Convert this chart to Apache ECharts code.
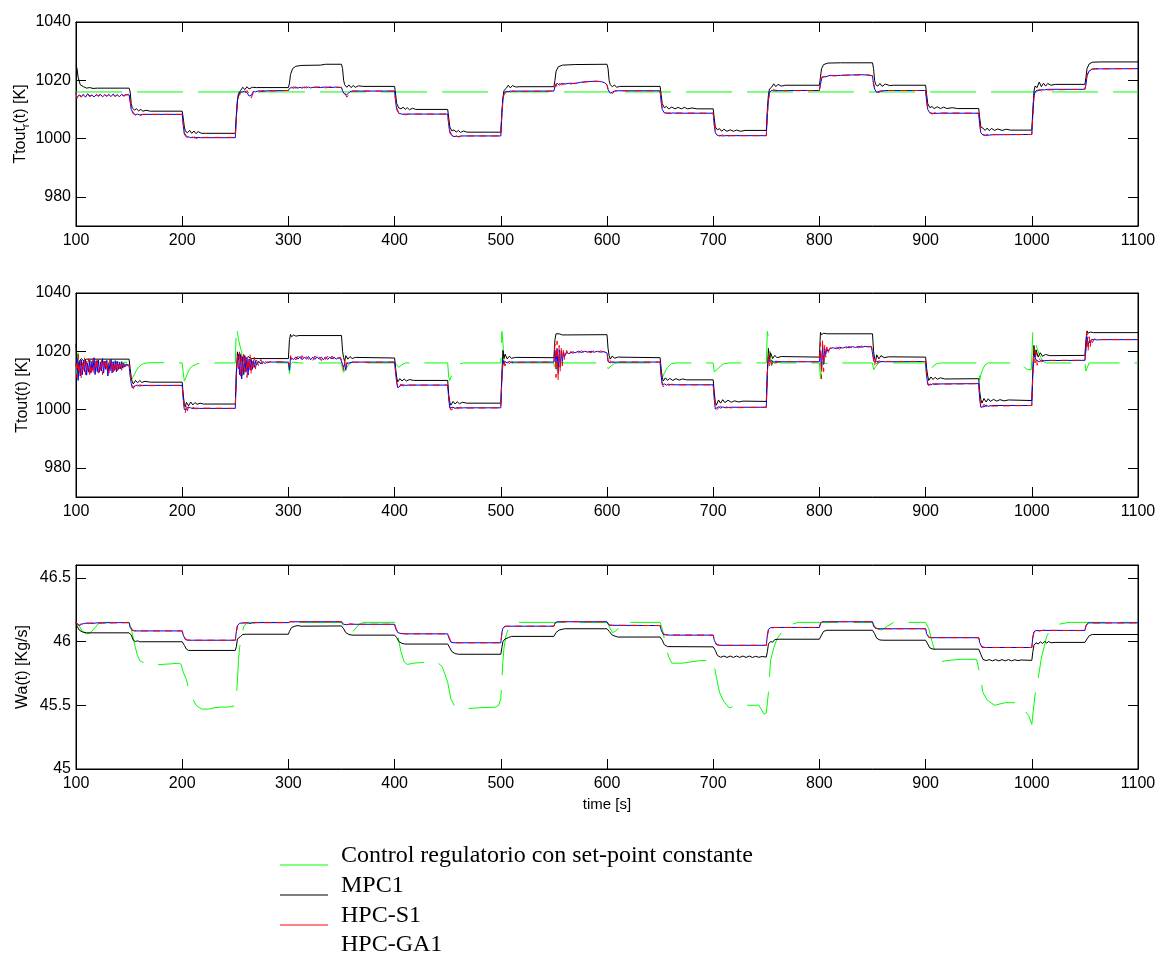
<!DOCTYPE html>
<html>
<head>
<meta charset="utf-8">
<script src="https://cdn.jsdelivr.net/npm/echarts@6/dist/echarts.min.js"></script>
<style>
html,body{margin:0;padding:0;background:#fff;}
#chart{width:1166px;height:953px;}
</style>
</head>
<body>
<div id="chart"></div>
<script>
// ---------------- DATA ----------------
const seriesNames = ['Control regulatorio con set-point constante', 'MPC1', 'HPC-S1', 'HPC-GA1'];
const xRange = [100, 1100, 100];
const yRange1 = [970, 1040];
const yRange2 = [970, 1040];
const yRange3 = [45, 46.6];
const yTicks1 = [980, 1000, 1020, 1040];
const yTicks2 = [980, 1000, 1020, 1040];
const yTicks3 = [45, 45.5, 46, 46.5];
const yNames = ['Ttout_r(t) [K]', 'Ttout(t) [K]', 'Wa(t) [Kg/s]'];
const xName = 'time [s]';

// Panel 1: Ttout_r(t)
const p1Green = [[100,1016],[1100,1016]];
const p1MPC = [[100,1025],[101,1024],[102,1021],[104,1018.5],[107,1017.8],[110,1017.3],[113,1017.5],[116,1017.2],[120,1017.3],[150,1017.3],[151,1016],[152,1012],[153,1010.5],[155,1009.8],[157,1010.2],[159,1009.5],[161,1010],[163,1009.4],[166,1009.7],[170,1009.4],[200,1009.4],[201,1007],[202,1004],[203,1002.5],[205,1002],[207,1002.8],[209,1001.8],[211,1002.6],[213,1001.7],[215,1002.4],[218,1001.8],[222,1001.8],[250,1001.8],[251,1008],[252,1013],[253,1015.5],[255,1016.5],[257,1017.6],[259,1016.8],[261,1017.8],[263,1017],[266,1017.6],[270,1017.5],[300,1017.5],[301,1019],[302,1022],[304,1024],[307,1024.8],[312,1025.1],[330,1025.2],[335,1025.5],[350,1025.5],[351,1024],[352,1020],[353,1018.5],[355,1017.6],[357,1018.4],[359,1017.5],[361,1018.2],[363,1017.6],[366,1018.1],[370,1017.9],[400,1017.9],[401,1015],[402,1012],[404,1010.5],[406,1010.2],[408,1010.8],[410,1010],[412,1010.6],[414,1009.9],[417,1010.4],[420,1010],[450,1010],[451,1007],[452,1004],[454,1002.6],[456,1003],[458,1002.2],[460,1002.8],[462,1002.1],[465,1002.6],[468,1002.2],[500,1002.2],[501,1009],[502,1014],[503,1016.5],[505,1017.2],[507,1018.3],[509,1017.4],[511,1018.2],[514,1017.7],[518,1017.8],[550,1017.8],[551,1020],[552,1023],[554,1024.6],[558,1025.2],[570,1025.4],[600,1025.5],[601,1024],[602,1020],[603,1018.5],[605,1017.8],[607,1018.4],[609,1017.6],[612,1017.9],[650,1017.9],[651,1015],[652,1012],[654,1010.6],[656,1011],[658,1010.2],[661,1010.8],[664,1010.2],[667,1010.7],[670,1010.2],[673,1010.7],[676,1010.2],[680,1010.5],[685,1010.2],[700,1010.2],[701,1007],[702,1004],[704,1003],[706,1003.4],[708,1002.5],[710,1003.2],[713,1002.5],[716,1003],[719,1002.5],[722,1002.9],[726,1002.5],[730,1002.8],[750,1002.8],[751,1010],[752,1015],[753,1017],[755,1017.6],[757,1018.8],[759,1017.8],[761,1018.6],[764,1018],[768,1018.3],[800,1018.3],[801,1021],[802,1024],[804,1025.4],[808,1025.9],[820,1026],[850,1026],[851,1024],[852,1020],[853,1018.5],[855,1018],[857,1018.9],[859,1017.9],[862,1018.7],[866,1018.2],[870,1018.3],[900,1018.3],[901,1015],[902,1012],[904,1010.6],[906,1011],[908,1010.3],[911,1010.9],[914,1010.3],[917,1010.8],[920,1010.3],[925,1010.6],[930,1010.3],[950,1010.3],[951,1007],[952,1004],[954,1003.6],[956,1002.8],[958,1003.6],[960,1002.7],[962,1003.5],[965,1002.8],[968,1003.3],[972,1002.8],[976,1003.2],[980,1002.9],[1000,1002.9],[1001,1010],[1002,1016],[1003,1018],[1005,1017.5],[1007,1019.4],[1009,1017.8],[1011,1019],[1013,1018],[1015,1018.9],[1018,1018.3],[1022,1018.6],[1050,1018.6],[1051,1021],[1052,1024],[1054,1025.6],[1057,1026.2],[1065,1026.3],[1100,1026.3]];
const p1HPCS = [[100,1016],[101,1013.5],[103,1014.8],[105,1014.2],[107,1015.3],[109,1014.5],[111,1015.2],[113,1014.3],[115,1015.1],[117,1014.6],[119,1015.3],[121,1014.4],[123,1015],[125,1014.5],[127,1015.2],[129,1014.4],[131,1015.3],[133,1014.7],[135,1015.1],[137,1014.3],[139,1015.2],[141,1014.6],[143,1015],[145,1014.5],[147,1015],[150,1015],[151,1013],[152,1010.5],[154,1008.8],[156,1008],[158,1008.6],[160,1007.8],[163,1008.3],[200,1008.3],[201,1005],[202,1002],[204,1000.8],[206,1000.3],[208,1000.9],[210,1000.2],[212,1000.6],[214,999.9],[217,1000.4],[250,1000.4],[251,1007],[252,1012.5],[253,1014.5],[255,1015.5],[257,1016.4],[259,1015.6],[261,1016.5],[263,1015.3],[265,1013.9],[267,1015.8],[269,1016.4],[272,1016],[275,1016.5],[280,1016.3],[300,1016.5],[301,1017.4],[303,1017.2],[305,1017.8],[307,1017.3],[309,1017.6],[311,1017.2],[313,1017.7],[315,1017.4],[317,1017.8],[319,1017.3],[321,1017.6],[325,1017.5],[330,1017.8],[335,1017.4],[340,1017.8],[345,1017.5],[350,1017.6],[351,1016.5],[353,1015.8],[355,1014.2],[356,1014],[358,1015.6],[360,1016.3],[400,1016.3],[401,1013],[402,1010.5],[404,1008.8],[406,1008.2],[408,1008.8],[410,1008.1],[413,1008.4],[450,1008.4],[451,1005],[452,1002.5],[454,1001.2],[456,1000.4],[458,1001],[460,1000.5],[463,1000.9],[500,1000.9],[501,1008],[502,1013],[503,1015.2],[505,1015.8],[507,1016.6],[509,1015.9],[511,1016.4],[514,1016.1],[550,1016.3],[551,1017.5],[552,1018.8],[553,1017.6],[555,1019],[557,1018.4],[560,1018.9],[565,1018.7],[570,1019],[575,1019.2],[580,1019.4],[585,1019.7],[590,1019.6],[595,1019.6],[598,1019],[600,1018.5],[601,1017],[603,1016],[605,1015.4],[607,1016.2],[610,1016.4],[650,1016.4],[651,1013],[652,1010.5],[654,1009],[656,1008.6],[659,1008.9],[662,1008.5],[665,1008.8],[700,1008.7],[701,1005],[702,1002.5],[704,1001.3],[706,1000.8],[709,1001.3],[712,1000.7],[716,1001],[750,1001],[751,1008],[752,1013],[753,1015.5],[755,1016.2],[757,1016.9],[759,1016.2],[762,1016.7],[766,1016.4],[800,1016.5],[801,1019],[802,1021],[803,1020.7],[806,1021.4],[810,1021.6],[815,1021.5],[820,1021.8],[825,1021.6],[830,1022],[835,1021.7],[840,1022],[845,1021.9],[850,1021.6],[851,1019],[852,1017.5],[854,1016],[856,1015.7],[858,1016.5],[860,1016.2],[865,1016.5],[900,1016.5],[901,1013],[902,1010.5],[904,1009],[906,1008.4],[909,1008.9],[912,1008.5],[916,1008.8],[950,1008.7],[951,1005],[952,1002.5],[954,1001.5],[956,1000.9],[958,1001.5],[960,1000.6],[963,1001.4],[1000,1001.4],[1001,1008],[1002,1014],[1003,1015.6],[1005,1016.2],[1007,1016.9],[1009,1016.3],[1012,1016.9],[1015,1016.7],[1050,1016.9],[1051,1019],[1052,1022],[1054,1023.5],[1057,1023.9],[1060,1023.8],[1065,1024],[1100,1024]];
const p1HPCGA = [[100,1015.6],[101,1014],[103,1015],[105,1014.5],[107,1015],[109,1014.2],[111,1015.4],[113,1014.6],[115,1014.9],[117,1014.3],[119,1015],[121,1014.7],[123,1015.2],[125,1014.3],[127,1015],[129,1014.6],[131,1015.1],[133,1014.4],[135,1015.3],[137,1014.6],[139,1014.9],[141,1014.4],[143,1015.2],[145,1014.7],[147,1015.1],[150,1015],[151,1012.5],[152,1010],[154,1008.5],[156,1008.2],[158,1008.4],[160,1008.1],[163,1008.3],[200,1008.3],[201,1004.5],[202,1001.5],[204,1000.5],[206,1000.6],[208,1000.3],[210,1000.5],[212,1000.2],[214,1000.4],[217,1000.3],[250,1000.3],[251,1007.5],[252,1013],[253,1015],[255,1016],[257,1016],[259,1016.3],[261,1015.8],[263,1014.6],[265,1014.8],[267,1016.2],[269,1016],[272,1016.4],[275,1016.2],[280,1016.4],[300,1016.5],[301,1017.2],[303,1017.6],[305,1017.3],[307,1017.7],[309,1017.3],[311,1017.6],[313,1017.3],[315,1017.7],[317,1017.4],[319,1017.7],[321,1017.4],[325,1017.7],[330,1017.5],[335,1017.7],[340,1017.5],[345,1017.7],[350,1017.5],[351,1016.3],[353,1015.2],[355,1015],[356,1015.4],[358,1016.1],[360,1016.3],[400,1016.3],[401,1012.5],[402,1010],[404,1008.6],[406,1008.5],[408,1008.3],[410,1008.4],[413,1008.4],[450,1008.4],[451,1004.5],[452,1002],[454,1001],[456,1000.7],[458,1000.8],[460,1000.7],[463,1000.9],[500,1000.9],[501,1008.5],[502,1013.5],[503,1015.5],[505,1016.2],[507,1016.1],[509,1016.3],[511,1016.2],[514,1016.3],[550,1016.3],[551,1018],[552,1017.8],[553,1019],[555,1018.3],[557,1018.9],[560,1018.7],[565,1019],[570,1018.9],[575,1019.3],[580,1019.5],[585,1019.6],[590,1019.7],[595,1019.5],[598,1019.1],[600,1018.4],[601,1016.8],[603,1015.6],[605,1015.9],[607,1016.3],[610,1016.4],[650,1016.4],[651,1012.5],[652,1010],[654,1008.8],[656,1008.8],[659,1008.6],[662,1008.8],[665,1008.7],[700,1008.7],[701,1004.5],[702,1002],[704,1001],[706,1001.1],[709,1000.9],[712,1001],[716,1001],[750,1001],[751,1008.5],[752,1013.5],[753,1015.8],[755,1016.6],[757,1016.4],[759,1016.6],[762,1016.4],[766,1016.5],[800,1016.5],[801,1018.5],[802,1020.5],[803,1021.2],[806,1021.2],[810,1021.7],[815,1021.6],[820,1021.7],[825,1021.8],[830,1021.8],[835,1021.9],[840,1021.9],[845,1021.8],[850,1021.5],[851,1018.5],[852,1017],[854,1015.8],[856,1016.2],[858,1016.3],[860,1016.4],[865,1016.5],[900,1016.5],[901,1012.5],[902,1010],[904,1008.8],[906,1008.7],[909,1008.6],[912,1008.7],[916,1008.7],[950,1008.7],[951,1004.5],[952,1002],[954,1001.2],[956,1001.2],[958,1001.1],[960,1001.2],[963,1001.3],[1000,1001.4],[1001,1008.5],[1002,1014.5],[1003,1016],[1005,1016.6],[1007,1016.5],[1009,1016.8],[1012,1016.7],[1015,1016.9],[1050,1016.9],[1051,1018.5],[1052,1021.5],[1054,1023.2],[1057,1023.8],[1060,1024],[1065,1023.9],[1100,1024]];

// Panel 2: Ttout(t)
const p2Green = [[100,1016],[101,1012],[102,1019.5],[103,1014],[104,1017],[106,1016],[110,1016.4],[150,1016.2],[151,1013],[152,1010.2],[153,1010.8],[155,1012],[157,1013.5],[159,1014.6],[162,1015.5],[166,1016],[175,1016.1],[200,1016],[201,1012.5],[202,1009.8],[203,1010.5],[205,1012.5],[207,1014],[210,1015],[214,1015.7],[220,1016],[250,1016],[251,1028.3],[252,1026.5],[253,1024],[254,1022.5],[255,1021],[256,1019.8],[257,1011.5],[258,1018.5],[259,1014.5],[260,1017],[262,1015.2],[264,1016.5],[267,1015.8],[270,1016.1],[300,1016],[301,1012.3],[302,1015.5],[304,1016.3],[310,1016],[350,1016],[351,1013.8],[352,1012.8],[354,1014],[357,1015.5],[360,1016.2],[363,1015.7],[368,1016],[400,1016],[402,1015.3],[404,1014.5],[407,1015.4],[410,1016],[450,1016],[451,1011],[452,1010],[454,1012],[456,1013.5],[458,1014.8],[461,1015.6],[465,1016],[500,1016],[501,1026.8],[502,1023],[503,1016],[504,1014],[506,1015.5],[508,1016.2],[510,1015.4],[512,1016],[550,1016],[551,1013],[552,1011.5],[553,1014.8],[555,1016.3],[560,1016],[600,1016],[601,1014],[602,1013.8],[604,1015],[607,1015.8],[610,1016],[650,1016],[651,1012.5],[652,1011],[654,1012.5],[657,1014.5],[660,1015.6],[664,1016],[700,1016],[701,1013],[702,1012.7],[704,1013.8],[707,1015],[710,1015.7],[715,1016],[750,1016],[751,1026.8],[752,1024.5],[753,1021],[754,1018],[755,1015],[756,1016.8],[758,1015.8],[761,1016.2],[765,1016],[800,1016],[801,1010.5],[802,1014.5],[803,1016.3],[806,1015.8],[810,1016],[850,1016],[851,1013.6],[853,1014.8],[855,1015.6],[858,1016.5],[861,1016],[900,1016],[901,1010.5],[902,1010.8],[904,1012.8],[906,1014.3],[908,1015.2],[911,1015.8],[915,1016],[950,1016],[951,1010.2],[952,1012],[954,1014],[956,1015.3],[959,1016],[989,1016],[993,1014.5],[996,1013.7],[999.5,1013.7],[1001,1026.8],[1002,1025],[1003,1023.5],[1005,1021],[1007,1019],[1009,1017.5],[1011,1016.5],[1014,1016],[1050,1016],[1051,1013.2],[1052,1014.2],[1054,1016],[1100,1016]];
const p2MPC = [[100,1022.5],[101,1016],[102,1014.5],[103,1016.5],[105,1017.5],[107,1016.8],[110,1017.3],[150,1017.3],[151,1014],[152,1011],[153,1009.5],[154,1008.8],[156,1010],[158,1009.2],[160,1010],[162,1009.3],[165,1009.7],[170,1009.4],[200,1009.4],[201,1005],[202,1002],[203,1001],[204,1002.5],[206,1001.3],[208,1002.6],[210,1001.6],[212,1002.4],[214,1001.8],[217,1002.2],[220,1001.9],[250,1001.9],[251,1012],[252,1019.8],[253,1017],[254,1019.5],[256,1017.2],[258,1018.6],[260,1017.4],[262,1018.2],[265,1017.5],[300,1017.5],[301,1024],[302,1025.8],[303,1025],[305,1025.6],[307,1025.2],[310,1025.4],[350,1025.4],[351,1020],[352,1017.8],[353,1016.5],[354,1018.5],[356,1017.3],[358,1018.2],[360,1017.5],[363,1017.9],[400,1017.7],[401,1014],[402,1011],[403,1009.5],[405,1010.6],[407,1009.8],[409,1010.5],[411,1009.8],[414,1010.3],[418,1010],[450,1010],[451,1005],[452,1002.5],[453,1001.5],[455,1002.8],[457,1001.9],[459,1002.7],[461,1002],[464,1002.5],[468,1002.2],[500,1002.2],[501,1012],[502,1020.3],[503,1017.5],[504,1019],[506,1017.4],[508,1018.3],[510,1017.6],[514,1017.9],[550,1017.8],[551,1024],[552,1026],[553,1025.4],[555,1026],[558,1025.6],[600,1025.7],[601,1021],[602,1018.5],[603,1017.3],[605,1018.4],[607,1017.6],[610,1018],[650,1017.8],[651,1014],[652,1011],[653,1009.8],[655,1010.9],[657,1010],[659,1010.7],[662,1010],[665,1010.6],[668,1010.1],[671,1010.5],[675,1010.2],[700,1010.2],[701,1006],[702,1002.5],[703,1001.5],[705,1003.3],[707,1002.2],[709,1003.4],[711,1002.4],[714,1003.2],[717,1002.5],[720,1003],[724,1002.6],[728,1002.9],[750,1002.8],[751,1013],[752,1021],[753,1017.2],[754,1019.5],[756,1017.5],[758,1018.6],[760,1017.8],[764,1018.2],[800,1018],[801,1026.5],[802,1025.7],[804,1026.2],[807,1026],[850,1026],[851,1020],[852,1017.5],[853,1016.8],[854,1018.8],[856,1017.4],[858,1018.5],[861,1017.8],[865,1018.1],[900,1018],[901,1014],[902,1011.5],[903,1010],[905,1011.2],[907,1010.3],[909,1011.1],[911,1010.4],[914,1010.9],[918,1010.5],[950,1010.6],[951,1006],[952,1003.5],[953,1002.2],[955,1003.8],[957,1002.6],[959,1003.7],[961,1002.8],[964,1003.5],[967,1002.9],[970,1003.4],[974,1003],[978,1003.3],[1000,1003.1],[1001,1014],[1002,1022],[1003,1018],[1004,1020.5],[1006,1018],[1008,1019.5],[1010,1018.3],[1013,1018.9],[1017,1018.5],[1050,1018.6],[1051,1024],[1052,1027],[1053,1026.2],[1055,1026.6],[1058,1026.4],[1100,1026.4]];
const p2HPCS = [[100,1016],[101,1011],[102,1019],[103,1012],[104,1017],[105,1010.5],[106,1016],[107,1013],[108,1018],[109,1012],[110,1016.5],[111,1013.5],[112,1017.5],[113,1011.5],[114,1015.5],[115,1013],[116,1017.5],[117,1012.5],[118,1016],[119,1014],[120,1017.8],[121,1012.5],[122,1015],[123,1013.5],[124,1017],[125,1012],[126,1016.5],[127,1014],[128,1017.5],[129,1013],[130,1015.5],[131,1012.5],[132,1017],[133,1014],[134,1016.8],[135,1012.2],[136,1015.5],[137,1013.8],[138,1017],[139,1012.8],[140,1016],[141,1014],[142,1016.5],[143,1013.5],[144,1015.8],[145,1014.5],[146,1016],[147,1015],[150,1015.2],[151,1012],[152,1009.5],[153,1008],[154,1007.2],[156,1008.8],[158,1007.9],[160,1008.5],[163,1008.2],[200,1008.3],[201,1004],[202,1000.5],[203,999],[204,1001.5],[205,999.6],[206,1001],[208,1000],[210,1000.8],[213,1000.2],[216,1000.5],[250,1000.4],[251,1012],[252,1018.5],[253,1014],[254,1019.8],[255,1011],[256,1018.5],[257,1012.5],[258,1019.5],[259,1013],[260,1018],[261,1011],[262,1017.5],[263,1013.5],[264,1018.8],[265,1012],[266,1017],[267,1014.5],[268,1018],[269,1014],[270,1017],[272,1015],[274,1017.2],[276,1015.5],[278,1016.8],[280,1016],[283,1016.5],[300,1016.3],[301,1015],[302,1018.5],[303,1017.2],[305,1018.2],[307,1017],[309,1018.3],[311,1017],[313,1018.5],[315,1016.8],[317,1018.2],[319,1017.2],[321,1018],[323,1016.9],[325,1018.4],[327,1017.3],[329,1018.1],[331,1016.8],[333,1018.5],[335,1017.2],[337,1018.3],[339,1017],[341,1018.4],[343,1017.3],[345,1018.2],[347,1017.5],[349,1018],[350,1017.5],[351,1016],[352,1013.5],[353,1016.8],[354,1014.2],[355,1016.2],[357,1015.5],[359,1016.5],[362,1016.2],[400,1016.3],[401,1013],[402,1009.5],[403,1008],[404,1007.3],[406,1008.8],[408,1008],[410,1008.7],[413,1008.4],[450,1008.4],[451,1004],[452,1001],[453,999.8],[455,1000.3],[457,1001.2],[459,1000.2],[462,1000.8],[465,1000.5],[500,1000.6],[501,1010],[502,1016],[503,1017.2],[504,1015],[506,1016.8],[508,1015.8],[510,1016.5],[513,1016.2],[550,1016.3],[551,1022.5],[552,1011],[553,1023.5],[554,1010.2],[555,1022],[556,1013],[557,1021.5],[558,1015],[559,1020.8],[560,1017.2],[562,1020.3],[564,1018.5],[566,1020],[568,1019.2],[570,1020.1],[573,1019.5],[576,1020.2],[579,1019.4],[582,1020],[585,1019.5],[588,1020.3],[591,1019.6],[594,1020.1],[597,1019.8],[600,1019.5],[601,1017],[602,1015.5],[603,1016.8],[605,1016],[607,1016.5],[610,1016.3],[650,1016.3],[651,1012],[652,1009],[653,1007.8],[654,1008.2],[656,1009],[658,1008.3],[661,1008.7],[665,1008.5],[700,1008.5],[701,1004],[702,1001],[703,999.8],[705,1000.5],[707,1001.2],[709,1000.4],[712,1000.9],[716,1000.6],[750,1000.8],[751,1012],[752,1019.5],[753,1015],[754,1017.8],[755,1015.3],[757,1017],[759,1016],[762,1016.5],[800,1016.4],[801,1023],[802,1010.5],[803,1024],[804,1013],[805,1022],[806,1018],[807,1021.5],[808,1019.2],[810,1021.2],[813,1020.6],[816,1021.4],[819,1020.8],[822,1021.6],[825,1021],[828,1021.7],[831,1021.1],[834,1021.6],[837,1021.2],[840,1021.8],[843,1021.3],[846,1021.7],[849,1021.5],[850,1021.5],[851,1018],[852,1015],[853,1017.5],[854,1015.6],[856,1016.8],[858,1016.2],[862,1016.5],[900,1016.5],[901,1012],[902,1009.2],[903,1008.2],[905,1009.3],[907,1008.4],[909,1009],[912,1008.7],[950,1008.9],[951,1004],[952,1001.5],[953,1000.6],[955,1001.8],[957,1000.9],[959,1001.6],[962,1001.2],[1000,1001.4],[1001,1012],[1002,1021],[1003,1016],[1004,1019.8],[1005,1015.2],[1007,1017.5],[1009,1016.3],[1012,1016.9],[1050,1016.9],[1051,1022],[1052,1026.5],[1053,1020],[1054,1025],[1055,1021.5],[1056,1024.5],[1057,1023],[1059,1024.3],[1062,1023.8],[1065,1024],[1100,1024]];
const p2HPCGA = [[100,1015],[101,1017.5],[102,1010],[103,1016.5],[104,1011.5],[105,1017],[106,1012],[107,1016.8],[108,1013],[109,1017.2],[110,1011.8],[111,1016],[112,1012.8],[113,1017],[114,1012.5],[115,1016.5],[116,1013.5],[117,1017.8],[118,1012],[119,1016.8],[120,1013],[121,1017],[122,1012.8],[123,1016.2],[124,1013.2],[125,1017.5],[126,1012.5],[127,1016.5],[128,1013.8],[129,1016.9],[130,1011.5],[131,1016],[132,1013.3],[133,1017.3],[134,1012.6],[135,1016.4],[136,1013.4],[137,1016.8],[138,1013],[139,1016.5],[140,1013.8],[141,1016.2],[142,1014],[143,1016.4],[144,1014.2],[145,1015.9],[146,1014.6],[147,1015.6],[150,1015.2],[151,1011.5],[152,1009],[153,1007.5],[154,1007.8],[156,1008.2],[158,1008.4],[160,1008.1],[163,1008.3],[200,1008.3],[201,1003.5],[202,1000],[203,1000.2],[204,1000],[205,1000.8],[206,1000.2],[208,1000.6],[210,1000.3],[213,1000.5],[216,1000.4],[250,1000.4],[251,1013],[252,1017.5],[253,1019],[254,1012],[255,1018.8],[256,1010.5],[257,1018],[258,1012],[259,1018.5],[260,1012.8],[261,1017.6],[262,1011.8],[263,1017.4],[264,1013.5],[265,1017.2],[266,1013.8],[267,1016.8],[268,1014.5],[269,1016.8],[270,1015.2],[272,1016.6],[274,1015.6],[276,1016.5],[278,1015.8],[280,1016.3],[283,1016.3],[300,1016.3],[301,1013.5],[302,1017.8],[303,1018.2],[305,1017.2],[307,1018.1],[309,1017.3],[311,1018.2],[313,1017.1],[315,1018],[317,1017.3],[319,1018.2],[321,1017.1],[323,1018],[325,1017.2],[327,1018.1],[329,1017.3],[331,1018],[333,1017.1],[335,1018.1],[337,1017.2],[339,1018],[341,1017.4],[343,1018],[345,1017.3],[347,1017.8],[349,1017.5],[350,1017.4],[351,1015.5],[352,1014.5],[353,1015.8],[354,1013.5],[355,1015.8],[357,1016],[359,1016.2],[362,1016.3],[400,1016.3],[401,1012.5],[402,1009],[403,1007.5],[404,1008],[406,1008.3],[408,1008.5],[410,1008.3],[413,1008.4],[450,1008.4],[451,1003.5],[452,1000.5],[453,1000.2],[455,1000.8],[457,1000.4],[459,1000.7],[462,1000.5],[465,1000.6],[500,1000.6],[501,1011],[502,1017],[503,1015.5],[504,1016.5],[506,1016],[508,1016.5],[510,1016.1],[513,1016.3],[550,1016.3],[551,1020],[552,1016],[553,1021],[554,1012.5],[555,1020.5],[556,1014.5],[557,1020.2],[558,1016.5],[559,1019.8],[560,1018.2],[562,1019.6],[564,1019.2],[566,1019.5],[568,1019.8],[570,1019.5],[573,1020],[576,1019.6],[579,1020],[582,1019.7],[585,1020],[588,1019.7],[591,1020],[594,1019.7],[597,1019.9],[600,1019.4],[601,1016.5],[602,1016.2],[603,1016],[605,1016.4],[607,1016.2],[610,1016.3],[650,1016.3],[651,1011.5],[652,1008.5],[653,1008.3],[654,1008.8],[656,1008.4],[658,1008.7],[661,1008.5],[665,1008.5],[700,1008.5],[701,1003.5],[702,1000.2],[703,1000.5],[705,1001],[707,1000.5],[709,1000.9],[712,1000.6],[716,1000.8],[750,1000.8],[751,1013],[752,1018],[753,1016.5],[754,1016],[755,1016.8],[757,1016.2],[759,1016.6],[762,1016.4],[800,1016.4],[801,1020],[802,1013.5],[803,1022],[804,1015.5],[805,1021],[806,1019],[807,1020.8],[808,1020],[810,1021],[813,1021.2],[816,1020.9],[819,1021.4],[822,1021.1],[825,1021.5],[828,1021.2],[831,1021.6],[834,1021.3],[837,1021.7],[840,1021.4],[843,1021.7],[846,1021.5],[849,1021.6],[850,1021.4],[851,1017],[852,1016.2],[853,1016],[854,1016.6],[856,1016.2],[858,1016.5],[862,1016.4],[900,1016.5],[901,1011.5],[902,1008.6],[903,1008.9],[905,1008.5],[907,1008.9],[909,1008.6],[912,1008.8],[950,1008.9],[951,1003.5],[952,1000.8],[953,1001.2],[955,1001],[957,1001.5],[959,1001.1],[962,1001.4],[1000,1001.4],[1001,1013],[1002,1019],[1003,1018],[1004,1017],[1005,1017.3],[1007,1016.4],[1009,1016.9],[1012,1016.8],[1050,1016.9],[1051,1020.5],[1052,1025],[1053,1022],[1054,1023.5],[1055,1022.8],[1056,1024],[1057,1023.5],[1059,1024],[1062,1023.9],[1065,1024],[1100,1024]];

// Panel 3: Wa(t)
const p3Green = [[100,46.15],[103,46.12],[106,46.08],[110,46.06],[113,46.065],[117,46.1],[121,46.14],[125,46.15],[150,46.15],[152,46.1],[154,46.02],[156,45.95],[158,45.89],[160,45.85],[162,45.84],[172,45.815],[180,45.82],[190,45.825],[197,45.83],[199,45.82],[201,45.76],[204,45.7],[207,45.6],[210,45.55],[213,45.5],[218,45.47],[225,45.47],[230,45.48],[236,45.485],[241,45.485],[248,45.49],[251,45.55],[252,45.7],[253,45.85],[254,45.95],[256,46.05],[258,46.12],[262,46.15],[350,46.15],[352,46.12],[355,46.07],[358,46.06],[361,46.08],[365,46.12],[370,46.15],[400,46.15],[402,46.1],[404,46.0],[406,45.92],[409,45.84],[412,45.82],[418,45.83],[425,45.835],[440,45.84],[445,45.8],[450,45.68],[453,45.55],[456,45.5],[460,45.48],[470,45.475],[480,45.48],[495,45.485],[498,45.5],[500,45.55],[501,45.7],[502,45.85],[503,45.95],[505,46.05],[508,46.12],[512,46.15],[600,46.15],[602,46.12],[605,46.07],[608,46.08],[612,46.12],[615,46.15],[650,46.15],[652,46.1],[655,45.98],[658,45.88],[661,45.83],[671,45.83],[687,45.85],[700,45.85],[703,45.72],[706,45.6],[710,45.53],[715,45.48],[724,45.5],[743,45.5],[748,45.43],[750,45.44],[752,45.6],[754,45.85],[757,45.95],[760,46.02],[765,46.08],[772,46.13],[780,46.15],[850,46.15],[852,46.12],[855,46.095],[859,46.09],[864,46.12],[870,46.15],[900,46.15],[903,46.1],[906,46.0],[910,45.89],[914,45.84],[919,45.85],[933,45.86],[948,45.86],[951,45.75],[954,45.6],[958,45.54],[965,45.5],[975,45.52],[985,45.52],[990,45.5],[993,45.46],[997,45.42],[1000,45.35],[1003,45.58],[1006,45.71],[1009,45.87],[1014,46.04],[1018,46.1],[1022,46.13],[1035,46.15],[1100,46.15]];
const p3MPC = [[100,46.15],[101,46.12],[103,46.09],[106,46.075],[110,46.068],[150,46.068],[152,46.05],[154,46.01],[156,46.0],[158,46.005],[160,45.998],[200,45.998],[202,45.97],[204,45.94],[206,45.93],[250,45.93],[251,45.96],[252,46.02],[253,46.03],[255,46.04],[257,46.055],[260,46.057],[300,46.057],[301,46.08],[303,46.11],[306,46.12],[309,46.125],[312,46.12],[350,46.122],[352,46.1],[354,46.07],[357,46.055],[360,46.05],[400,46.05],[402,46.03],[404,46.0],[407,45.985],[410,45.98],[450,45.98],[452,45.95],[454,45.92],[457,45.905],[460,45.9],[500,45.9],[501,45.95],[502,46.0],[504,46.02],[507,46.03],[510,46.04],[550,46.04],[552,46.07],[555,46.09],[560,46.1],[600,46.1],[602,46.08],[605,46.05],[610,46.035],[650,46.035],[652,46.01],[654,45.975],[657,45.96],[700,45.958],[702,45.93],[704,45.89],[707,45.876],[710,45.886],[713,45.875],[716,45.886],[719,45.875],[722,45.886],[725,45.875],[728,45.886],[731,45.875],[734,45.886],[737,45.875],[740,45.884],[743,45.876],[746,45.882],[750,45.878],[751,45.92],[752,45.98],[754,46.0],[756,45.995],[758,46.015],[762,46.018],[800,46.018],[802,46.05],[804,46.08],[807,46.088],[850,46.088],[852,46.06],[854,46.025],[857,46.012],[860,46.01],[900,46.01],[902,45.98],[904,45.95],[907,45.94],[950,45.94],[952,45.9],[954,45.86],[957,45.85],[960,45.858],[963,45.848],[966,45.858],[969,45.848],[972,45.858],[975,45.848],[978,45.858],[981,45.848],[984,45.857],[987,45.85],[990,45.855],[1000,45.852],[1001,45.92],[1002,45.97],[1004,45.99],[1006,45.98],[1008,45.998],[1010,45.985],[1012,46.0],[1014,45.988],[1016,46.0],[1018,45.99],[1022,45.993],[1050,45.993],[1052,46.02],[1054,46.045],[1057,46.055],[1100,46.055]];
const p3HPCS = [[100,46.15],[101,46.14],[103,46.128],[105,46.14],[108,46.145],[112,46.14],[116,46.147],[120,46.142],[125,46.148],[130,46.143],[135,46.15],[140,46.146],[150,46.148],[151,46.12],[153,46.09],[155,46.085],[160,46.083],[200,46.083],[201,46.06],[203,46.02],[205,46.012],[210,46.01],[250,46.01],[251,46.07],[252,46.12],[254,46.14],[258,46.146],[262,46.148],[264,46.13],[266,46.145],[270,46.148],[300,46.148],[302,46.155],[350,46.155],[352,46.14],[355,46.13],[358,46.138],[362,46.135],[400,46.135],[401,46.11],[403,46.075],[406,46.065],[410,46.06],[450,46.06],[451,46.04],[453,46.0],[456,45.99],[500,45.99],[501,46.06],[502,46.1],[504,46.118],[508,46.12],[550,46.12],[551,46.14],[553,46.155],[600,46.155],[602,46.13],[605,46.127],[650,46.125],[651,46.1],[653,46.06],[655,46.055],[660,46.052],[700,46.05],[701,46.02],[703,45.98],[706,45.97],[750,45.97],[751,46.04],[752,46.09],[754,46.105],[758,46.11],[800,46.11],[801,46.14],[803,46.155],[850,46.155],[851,46.13],[853,46.105],[856,46.1],[900,46.1],[901,46.07],[903,46.035],[906,46.03],[950,46.03],[951,46.0],[953,45.96],[956,45.953],[1000,45.953],[1001,46.03],[1002,46.07],[1004,46.088],[1007,46.082],[1010,46.088],[1050,46.085],[1051,46.12],[1053,46.145],[1100,46.146]];
const p3HPCGA = [[100,46.15],[101,46.135],[103,46.125],[105,46.135],[108,46.142],[112,46.145],[116,46.142],[120,46.147],[125,46.144],[130,46.148],[135,46.145],[140,46.148],[150,46.148],[151,46.11],[153,46.088],[155,46.083],[160,46.083],[200,46.083],[201,46.05],[203,46.015],[205,46.01],[210,46.01],[250,46.01],[251,46.08],[252,46.125],[254,46.143],[258,46.146],[262,46.146],[264,46.14],[266,46.147],[270,46.148],[300,46.148],[302,46.155],[350,46.155],[352,46.135],[355,46.132],[358,46.136],[362,46.135],[400,46.135],[401,46.1],[403,46.07],[406,46.062],[410,46.06],[450,46.06],[451,46.03],[453,45.995],[456,45.99],[500,45.99],[501,46.07],[502,46.105],[504,46.12],[508,46.12],[550,46.12],[551,46.145],[553,46.155],[600,46.155],[602,46.128],[605,46.127],[650,46.125],[651,46.09],[653,46.055],[655,46.052],[660,46.05],[700,46.05],[701,46.01],[703,45.975],[706,45.97],[750,45.97],[751,46.05],[752,46.095],[754,46.108],[758,46.11],[800,46.11],[801,46.145],[803,46.155],[850,46.155],[851,46.12],[853,46.102],[856,46.1],[900,46.1],[901,46.06],[903,46.032],[906,46.03],[950,46.03],[951,45.99],[953,45.955],[956,45.953],[1000,45.953],[1001,46.04],[1002,46.075],[1004,46.086],[1007,46.085],[1010,46.087],[1050,46.087],[1051,46.125],[1053,46.146],[1100,46.146]];

// ---------------- CHART ----------------
const chart = echarts.init(document.getElementById('chart'), null, {renderer: 'canvas'});
const colors = ['#00ff00', '#000000', '#ff0000', '#0000ff'];
const gridTops = [22, 293, 565];
const yRanges = [yRange1, yRange2, yRange3];
const yTickSets = [yTicks1, yTicks2, yTicks3];
const lblFont = 'Liberation Sans';
const fmt = v => String(v);

const grids = gridTops.map(t => ({left: 76, width: 1062, top: t, height: 204, show: true, borderColor: '#000', borderWidth: 1, backgroundColor: '#fff'}));

const xAxes = [], yAxes = [];
yRanges.forEach((yr, i) => {
  const xtick = {show: true, inside: true, length: 10, lineStyle: {color: '#000', width: 1}};
  const ytick = {show: true, inside: true, length: 10, lineStyle: {color: '#000', width: 1}, customValues: yTickSets[i]};
  const axLine = {show: true, onZero: false, lineStyle: {color: '#000', width: 1}};
  xAxes.push({type: 'value', gridIndex: i, min: xRange[0], max: xRange[1], interval: xRange[2], position: 'bottom',
    axisLine: axLine, axisTick: xtick,
    axisLabel: {show: true, color: '#000', fontFamily: lblFont, fontSize: 16, margin: 7, formatter: fmt},
    splitLine: {show: false},
    name: i === 2 ? xName : '', nameLocation: 'middle', nameGap: 28, nameMoveOverlap: false,
    nameTextStyle: {color: '#000', fontFamily: lblFont, fontSize: 15}});
  xAxes.push({type: 'value', gridIndex: i, min: xRange[0], max: xRange[1], interval: xRange[2], position: 'top',
    axisLine: axLine, axisTick: xtick, axisLabel: {show: false}, splitLine: {show: false}});
  const nameObj = i === 0 ? '{a|Ttout}{s|r}{a|(t) [K]}' : yNames[i];
  yAxes.push({type: 'value', gridIndex: i, min: yr[0], max: yr[1], position: 'left',
    axisLine: axLine, axisTick: ytick,
    axisLabel: {show: true, color: '#000', fontFamily: lblFont, fontSize: 16, margin: 5, formatter: fmt, customValues: yTickSets[i]},
    splitLine: {show: false},
    name: nameObj, nameLocation: 'middle', nameGap: 45, nameMoveOverlap: false,
    nameTextStyle: {color: '#000', fontFamily: lblFont, fontSize: 16,
      rich: {a: {fontFamily: lblFont, fontSize: 16, color: '#000'}, s: {fontFamily: lblFont, fontSize: 11, color: '#000', padding: [9, 0, 0, 0]}}}});
  yAxes.push({type: 'value', gridIndex: i, min: yr[0], max: yr[1], position: 'right',
    axisLine: axLine, axisTick: ytick, axisLabel: {show: false}, splitLine: {show: false}});
});

const panelData = [
  [p1Green, p1MPC, p1HPCS, p1HPCGA],
  [p2Green, p2MPC, p2HPCS, p2HPCGA],
  [p3Green, p3MPC, p3HPCS, p3HPCGA]
];
const series = [];
const order = [0, 1, 3, 2]; // green, black, blue, red dashed on top
panelData.forEach((arr, i) => {
  order.forEach((k, zi) => {
    const ls = {color: colors[k], width: 1};
    if (k === 0) ls.type = [46, 15];
    if (k === 2) ls.type = [7, 5];
    series.push({
      name: seriesNames[k], type: 'line', xAxisIndex: i * 2, yAxisIndex: i * 2,
      data: arr[k], showSymbol: false, symbol: 'none',
      lineStyle: ls, itemStyle: {color: colors[k]}, z: 2 + zi, silent: true
    });
  });
});

// legend: line drawn at text baseline (icon path with a tiny point at top to offset the line)
const legendRows = [863, 893, 923, 952];
const legendColors = ['#00ff00', '#000000', '#ff0000', '#e4e4e4'];
const legendIcon = 'path://M0,0 L0.02,0 L0.02,0.02 Z M0,19 L48,19 L48,20.2 L0,20.2 Z';
const legends = seriesNames.map((n, k) => ({
  left: 280, top: legendRows[k] - 19.5, padding: 0, orient: 'vertical', selectedMode: false,
  icon: legendIcon, itemWidth: 48, itemHeight: 20.2, symbolKeepAspect: false,
  itemStyle: {color: legendColors[k], borderWidth: 0},
  data: [{name: n, icon: legendIcon, itemStyle: {color: legendColors[k], borderWidth: 0}}],
  textStyle: {color: '#000', fontFamily: 'Liberation Serif', fontSize: 24, padding: [0, 0, 0, 8]}
}));

chart.setOption({
  animation: false,
  backgroundColor: '#fff',
  grid: grids,
  xAxis: xAxes,
  yAxis: yAxes,
  legend: legends,
  series: series
});
</script>
</body>
</html>
